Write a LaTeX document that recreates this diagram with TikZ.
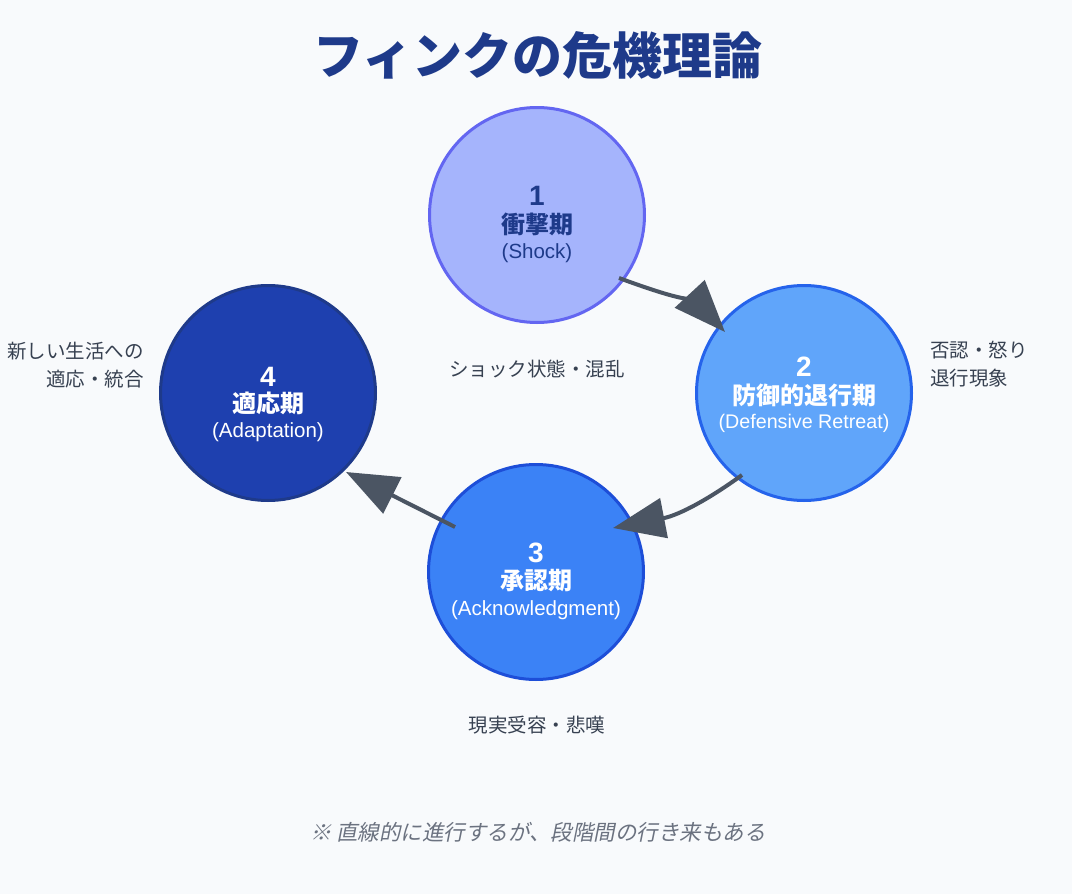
\documentclass[tikz,border=0pt]{standalone}
\usepackage{fontspec}
\setmainfont{Liberation Sans}
\newfontfamily\jp{Noto Sans CJK JP}
\newfontfamily\jpit[FakeSlant=0.2]{Noto Sans CJK JP}
\usetikzlibrary{arrows.meta,calc}
\definecolor{bg}{HTML}{F8FAFC}
\definecolor{titlec}{HTML}{1E3A8A}
\definecolor{labc}{HTML}{374151}
\definecolor{notec}{HTML}{6B7280}
\definecolor{arrc}{HTML}{4B5563}
\definecolor{fillA}{HTML}{A5B4FC}\definecolor{drawA}{HTML}{6366F1}
\definecolor{fillB}{HTML}{60A5FA}\definecolor{drawB}{HTML}{2563EB}
\definecolor{fillC}{HTML}{3B82F6}\definecolor{drawC}{HTML}{1D4ED8}
\definecolor{fillD}{HTML}{1E40AF}\definecolor{drawD}{HTML}{1E3A8A}
\begin{document}
\begin{tikzpicture}[x=1pt,y=-1pt,
  stage/.style={circle,minimum size=215pt,inner sep=0pt,line width=3pt},
  num/.style={inner sep=0pt,font=\fontsize{28}{30}\selectfont\bfseries},
  jpname/.style={inner sep=0pt,font=\jp\fontsize{24}{26}\selectfont\bfseries},
  enname/.style={inner sep=0pt,font=\fontsize{20.5}{24}\selectfont},
  lab/.style={inner sep=0pt,text=labc,font=\jp\fontsize{19.5}{28}\selectfont},
  flow/.style={draw=arrc,line width=4pt,-{Triangle[length=52pt,width=40pt]}}
]
\fill[bg] (0,0) rectangle (1072,894);
\useasboundingbox (0,0) rectangle (1072,894);

\node[inner sep=0pt,text=titlec,font=\jp\fontsize{50}{56}\selectfont\bfseries] (title) at (538,55) {フィンクの危機理論};

% circles
\node[stage,fill=fillA,draw=drawA] (c1) at (537,215) {};
\node[stage,fill=fillB,draw=drawB] (c2) at (804,393) {};
\node[stage,fill=fillC,draw=drawC] (c3) at (536,572) {};
\node[stage,fill=fillD,draw=drawD] (c4) at (268,393) {};

% circle texts
\node[num,text=titlec] (n1) at (537,196) {1};
\node[jpname,text=titlec] (j1) at (537,224) {衝撃期};
\node[enname,text=titlec] (e1) at (537,253) {(Shock)};

\node[num,text=white] (n2) at (804,367) {2};
\node[jpname,text=white] (j2) at (804,395) {防御的退行期};
\node[enname,text=white,font=\fontsize{19.7}{24}\selectfont] (e2) at (804,423) {(Defensive Retreat)};

\node[num,text=white] (n3) at (536,553) {3};
\node[jpname,text=white] (j3) at (536,581) {承認期};
\node[enname,text=white] (e3) at (536,610) {(Acknowledgment)};

\node[num,text=white] (n4) at (268,377) {4};
\node[jpname,text=white] (j4) at (268,403) {適応期};
\node[enname,text=white] (e4) at (268,432) {(Adaptation)};

% connector end points
\coordinate (a1s) at ($(c1.center)+(82,63)$);
\coordinate (a1e) at ($(c2.center)+(-79,-61)$);
\coordinate (a2s) at ($(c2.center)+(-62,82)$);
\coordinate (a2e) at ($(c3.center)+(77,-44)$);
\coordinate (a3s) at ($(c3.center)+(-81,-45)$);
\coordinate (a3e) at ($(c4.center)+(78,79)$);

\draw[flow] (a1s) .. controls ($(a1s)+(46,17)$) and ($(a1e)+(-25,-27)$) .. (a1e);
\draw[flow] (a2s) .. controls ($(a2s)+(-30,22)$) and ($(a2e)+(67,-13)$) .. (a2e);
\draw[flow] (a3s) -- (a3e);

% labels
\node[lab] (l1) at (537,369) {ショック状態・混乱};
\node[lab,anchor=west,align=left] (l2) at (930,364) {否認・怒り\\退行現象};
\node[lab,anchor=east,align=right] (l4) at (144,365) {新しい生活への\\適応・統合};
\node[lab] (l3) at (537,725) {現実受容・悲嘆};

\node[inner sep=0pt,text=notec,font=\jpit\fontsize{21.5}{26}\selectfont] (note) at (538,832) {※ 直線的に進行するが、段階間の行き来もある};
\end{tikzpicture}
\end{document}
